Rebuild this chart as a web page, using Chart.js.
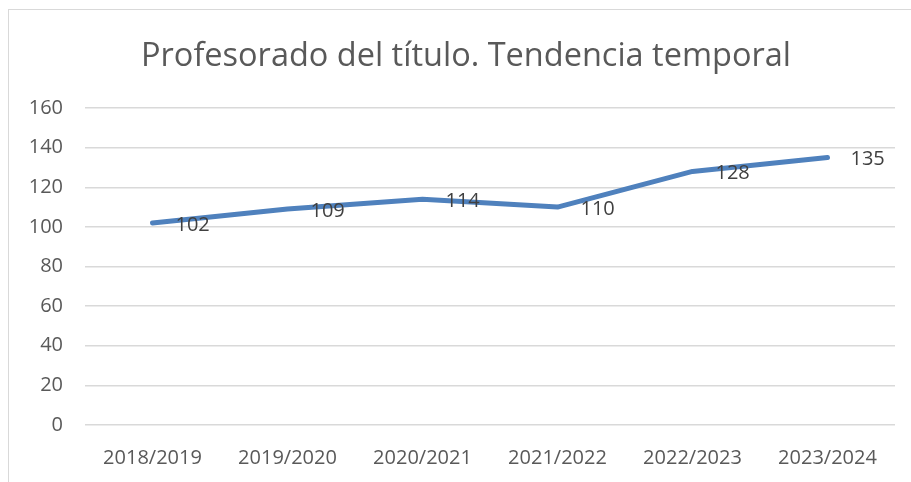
<!DOCTYPE html>
<html>
<head>
<meta charset="utf-8">
<script src="https://cdn.jsdelivr.net/npm/chart.js@4"></script>
<style>
    html, body { margin: 0; padding: 0; background: #fff; overflow: hidden; }
    #wrap { position: relative; width: 911px; height: 482px; }
    #frame { position: absolute; left: 8px; top: 9px; width: 1000px; height: 600px; border: 1px solid #d9d9d9; }
    canvas { position: absolute; left: 0; top: 0; }
</style>
</head>
<body>
<div id="wrap">
    <div id="frame"></div>
    <canvas id="trendChart" width="911" height="482"></canvas>
</div>
<script>
// ===== Profesorado del título: datos =====
const years = ['2018/2019', '2019/2020', '2020/2021', '2021/2022', '2022/2023', '2023/2024'];
const teachers = [102, 109, 114, 110, 128, 135];
const yTicks = [0, 20, 40, 60, 80, 100, 120, 140, 160];

const FONT = "'Open Sans', 'Liberation Sans', sans-serif";

// labels to the right of each point, like Excel's "right" position
const pointLabels = {
    id: 'pointLabels',
    afterLayout(chart) {
        // title is centred on the whole frame, not on the canvas minus padding
        if (chart.titleBlock) chart.titleBlock.left = 37;
    },
    afterDatasetsDraw(chart) {
        const ctx = chart.ctx;
        const meta = chart.getDatasetMeta(0);
        ctx.save();
        ctx.font = '20px ' + FONT;
        ctx.fillStyle = '#404040';
        ctx.textAlign = 'left';
        ctx.textBaseline = 'middle';
        meta.data.forEach((pt, i) => {
            ctx.fillText(String(teachers[i]), pt.x + 23, pt.y + 2);
        });
        ctx.restore();
    }
};

document.addEventListener('DOMContentLoaded', function() {
    const ctx = document.getElementById('trendChart');
    new Chart(ctx, {
        type: 'line',
        data: {
            labels: years,
            datasets: [{
                data: teachers,
                borderColor: '#4f81bd',
                borderWidth: 5,
                borderCapStyle: 'round',
                borderJoinStyle: 'round',
                pointRadius: 0,
                tension: 0,
                fill: false
            }]
        },
        options: {
            responsive: false,
            animation: false,
            devicePixelRatio: 1,
            layout: { padding: { left: 0, right: 16, top: 0, bottom: 0 } },
            plugins: {
                legend: { display: false },
                tooltip: { enabled: false },
                title: {
                    display: true,
                    text: 'Profesorado del título. Tendencia temporal',
                    color: '#595959',
                    font: { family: FONT, size: 32.5, weight: 'normal' },
                    padding: { top: 37, bottom: 32 }
                }
            },
            scales: {
                x: {
                    offset: true,
                    grid: { display: false, drawTicks: false },
                    border: { display: false },
                    ticks: { color: '#595959', font: { family: FONT, size: 20 }, padding: 21, maxRotation: 0 },
                    afterFit(scale) { scale.height = 57; }
                },
                y: {
                    min: 0,
                    max: 160,
                    afterBuildTicks(scale) { scale.ticks = yTicks.map(v => ({ value: v })); },
                    grid: { color: '#d9d9d9', lineWidth: 1.5, drawTicks: false },
                    border: { display: false },
                    ticks: { color: '#595959', font: { family: FONT, size: 20 }, padding: 22 },
                    afterFit(scale) { scale.width = 85; }
                }
            }
        },
        plugins: [pointLabels]
    });
});
</script>
</body>
</html>
